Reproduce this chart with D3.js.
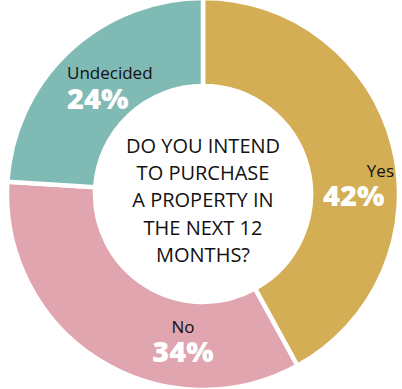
<!DOCTYPE html>
<html>
<head>
<meta charset="utf-8">
<script src="https://cdn.jsdelivr.net/npm/d3@7"></script>
<style>
  body { margin: 0; background: #fff; }
  svg { display: block; }
</style>
</head>
<body>
<div id="chart"></div>
<script>
const categories = ["Yes", "No", "Undecided"];
const values = [42, 34, 24];
const colors = ["#d4ae55", "#e0a5ae", "#80bab5"];
const question = ["DO YOU INTEND", "TO PURCHASE", "A PROPERTY IN", "THE NEXT 12", "MONTHS?"];

const width = 402, height = 389;
const cx = 203, cy = 194;
const outerR = 196, innerR = 108;

const svg = d3.select("#chart").append("svg")
    .attr("width", width)
    .attr("height", height);

const g = svg.append("g").attr("transform", `translate(${cx},${cy})`);

const data = categories.map((c, i) => ({ name: c, value: values[i], color: colors[i] }));

const pie = d3.pie().value(d => d.value).sort(null);
const arc = d3.arc().innerRadius(innerR).outerRadius(outerR);

const arcs = pie(data);

g.selectAll("path")
    .data(arcs)
    .join("path")
    .attr("d", arc)
    .attr("fill", d => d.data.color)
    .attr("stroke", "#fff")
    .attr("stroke-width", 4.5);

// label positions (name + percent), offsets per slice
const labelPos = {
    "Yes": { x: 191, y: -17, anchor: "end", px: 120, py: 12 },
    "No": { x: -20, y: 139, anchor: "middle", px: -20, py: 168 },
    "Undecided": { x: -136, y: -115, anchor: "start", px: -136, py: -85 }
};

const labels = g.selectAll("g.label")
    .data(arcs)
    .join("g")
    .attr("class", "label");

labels.append("text")
    .attr("x", d => labelPos[d.data.name].x)
    .attr("y", d => labelPos[d.data.name].y)
    .attr("text-anchor", d => labelPos[d.data.name].anchor)
    .attr("font-family", "'Open Sans', sans-serif")
    .attr("font-size", 17)
    .attr("fill", "#111")
    .text(d => d.data.name);

labels.append("text")
    .attr("x", d => labelPos[d.data.name].px)
    .attr("y", d => labelPos[d.data.name].py)
    .attr("text-anchor", "start")
    .attr("font-family", "'Open Sans', sans-serif")
    .attr("font-weight", 800)
    .attr("font-size", 29)
    .attr("fill", "#fff")
    .text(d => d.data.value + "%");

g.select("g.label:nth-child(4) text:last-child");

labels.filter(d => d.data.name === "No").select("text:last-child")
    .attr("text-anchor", "middle");

g.append("text")
    .attr("text-anchor", "middle")
    .attr("font-family", "'Open Sans', sans-serif")
    .attr("font-size", 20)
    .attr("fill", "#111")
    .selectAll("tspan")
    .data(question)
    .join("tspan")
    .attr("x", 0)
    .attr("y", (d, i) => -41 + i * 27.2)
    .text(d => d);
</script>
</body>
</html>
